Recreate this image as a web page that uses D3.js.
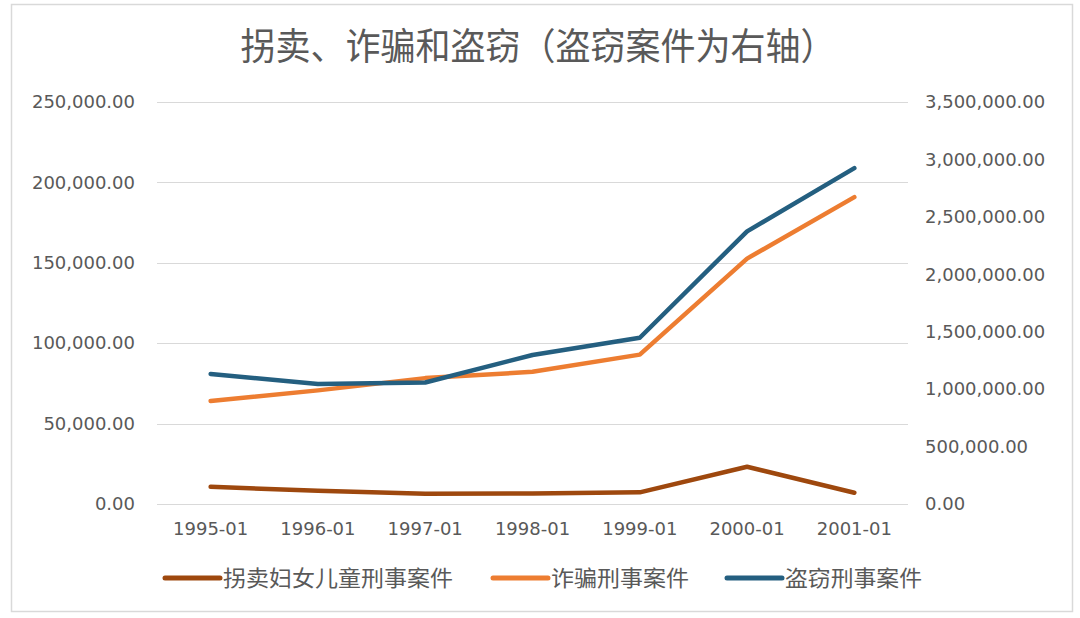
<!DOCTYPE html>
<html>
<head>
<meta charset="utf-8">
<script src="https://cdn.jsdelivr.net/npm/d3@7"></script>
<style>
  html, body { margin: 0; padding: 0; background: #fff; }
  svg { display: block; }
</style>
</head>
<body>
<svg id="chart" width="1080" height="618"></svg>
<script>
const categories = ["1995-01", "1996-01", "1997-01", "1998-01", "1999-01", "2000-01", "2001-01"];
const traffickingCases = [10670, 8290, 6425, 6513, 7257, 23163, 7008];
const fraudCases = [64047, 70669, 78284, 82204, 92900, 152614, 190851];
const theftCases = [1132789, 1043982, 1058110, 1296988, 1447390, 2373696, 2924512];
const leftTicks = [0, 50000, 100000, 150000, 200000, 250000];
const rightTicks = [0, 500000, 1000000, 1500000, 2000000, 2500000, 3000000, 3500000];
const seriesNames = ["拐卖妇女儿童刑事案件", "诈骗刑事案件", "盗窃刑事案件"];
const titleText = "拐卖、诈骗和盗窃（盗窃案件为右轴）";

const colors = ["#9E480E", "#ED7D31", "#245F80"];
const svg = d3.select("#chart");
const plot = { left: 157, right: 908, top: 102, bottom: 504 };

// border
svg.append("rect").attr("x", 11.5).attr("y", 4.5).attr("width", 1061).attr("height", 607)
  .attr("fill", "#fff").attr("stroke", "#d9d9d9").attr("stroke-width", 1.5);

// title
svg.append("text").attr("x", 538).attr("y", 60).attr("text-anchor", "middle")
  .attr("font-family", "'Noto Sans CJK SC', sans-serif").attr("font-size", 37)
  .attr("fill", "#595959").attr("textLength", 595).attr("lengthAdjust", "spacingAndGlyphs")
  .text(titleText);

const x = d3.scaleBand().domain(categories).range([plot.left, plot.right]);
const yL = d3.scaleLinear().domain([0, 250000]).range([plot.bottom, plot.top]);
const yR = d3.scaleLinear().domain([0, 3500000]).range([plot.bottom, plot.top]);
const fmt = d3.format(",.2f");

// gridlines
svg.append("g").selectAll("line").data(leftTicks).join("line")
  .attr("x1", plot.left).attr("x2", plot.right)
  .attr("y1", d => Math.round(yL(d)) + 0.5).attr("y2", d => Math.round(yL(d)) + 0.5)
  .attr("stroke", "#d9d9d9").attr("stroke-width", 1.2);

const tickFont = "'DejaVu Sans', sans-serif";
// left axis
const gL = svg.append("g").attr("transform", `translate(${plot.left},0)`)
  .call(d3.axisLeft(yL).tickValues(leftTicks).tickFormat(fmt).tickSize(0).tickPadding(22));
gL.select(".domain").remove();
gL.selectAll("text").attr("font-family", tickFont).attr("font-size", 18).attr("fill", "#595959");

// right axis
const gR = svg.append("g").attr("transform", `translate(${plot.right},0)`)
  .call(d3.axisRight(yR).tickValues(rightTicks).tickFormat(fmt).tickSize(0).tickPadding(17));
gR.select(".domain").remove();
gR.selectAll("text").attr("font-family", tickFont).attr("font-size", 18).attr("fill", "#595959");

// bottom axis
const gB = svg.append("g").attr("transform", `translate(0,${plot.bottom})`)
  .call(d3.axisBottom(x).tickSize(0).tickPadding(18));
gB.select(".domain").remove();
gB.selectAll("text").attr("font-family", tickFont).attr("font-size", 18).attr("fill", "#595959");

const cx = d => x(d) + x.bandwidth() / 2;
const lineL = d3.line().x((d, i) => cx(categories[i])).y(d => yL(d));
const lineR = d3.line().x((d, i) => cx(categories[i])).y(d => yR(d));

const series = [
  { name: seriesNames[0], values: traffickingCases, gen: lineL, color: colors[0] },
  { name: seriesNames[1], values: fraudCases, gen: lineL, color: colors[1] },
  { name: seriesNames[2], values: theftCases, gen: lineR, color: colors[2] }
];

svg.append("g").selectAll("path").data(series).join("path")
  .attr("d", s => s.gen(s.values))
  .attr("fill", "none").attr("stroke", s => s.color).attr("stroke-width", 4.5)
  .attr("stroke-linejoin", "round").attr("stroke-linecap", "round");

// legend
const legendItems = [
  { x: 165, tw: 230 },
  { x: 493, tw: 138 },
  { x: 727, tw: 137 }
];
const lg = svg.append("g");
series.forEach((s, i) => {
  const it = legendItems[i];
  lg.append("line").attr("x1", it.x).attr("x2", it.x + 55).attr("y1", 578).attr("y2", 578)
    .attr("stroke", s.color).attr("stroke-width", 5).attr("stroke-linecap", "round");
  lg.append("text").attr("x", it.x + 58).attr("y", 586)
    .attr("font-family", "'Noto Sans CJK SC', sans-serif").attr("font-size", 22)
    .attr("fill", "#595959").attr("textLength", it.tw).attr("lengthAdjust", "spacingAndGlyphs")
    .text(s.name);
});
</script>
</body>
</html>
